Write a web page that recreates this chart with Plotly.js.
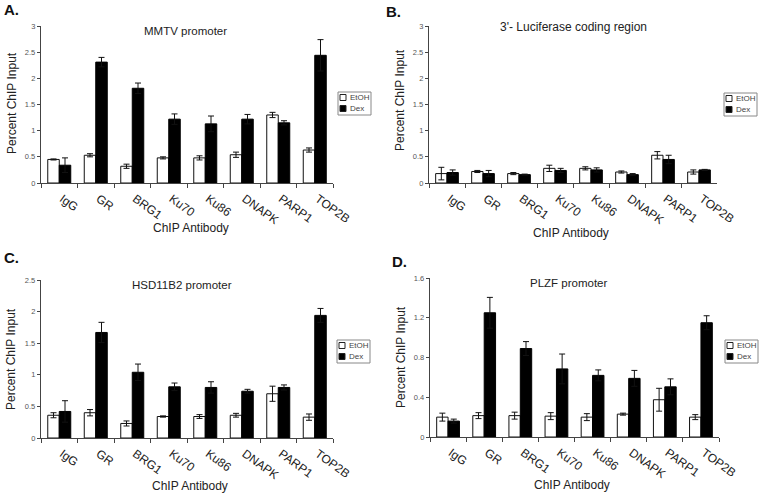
<!DOCTYPE html>
<html>
<head>
<meta charset="utf-8">
<script src="https://cdn.plot.ly/plotly-3.0.1.min.js"></script>
<style>html,body{margin:0;padding:0;background:#fff;}#chart{width:760px;height:494px;}</style>
</head>
<body>
<div id="chart"></div>
<script>
// ---------- data ----------
const categories = ['IgG','GR','BRG1','Ku70','Ku86','DNAPK','PARP1','TOP2B'];
const seriesNames = ['EtOH','Dex'];

// A. MMTV promoter
const mmtvEtOH    = [0.45, 0.53, 0.32, 0.48, 0.48, 0.54, 1.30, 0.63];
const mmtvEtOHErr = [0.01, 0.03, 0.04, 0.02, 0.04, 0.05, 0.05, 0.04];
const mmtvDex     = [0.34, 2.31, 1.81, 1.22, 1.13, 1.22, 1.15, 2.44];
const mmtvDexErr  = [0.14, 0.09, 0.10, 0.10, 0.15, 0.09, 0.04, 0.30];

// B. 3'- Luciferase coding region
const lucEtOH    = [0.18, 0.22, 0.18, 0.28, 0.28, 0.21, 0.53, 0.21];
const lucEtOHErr = [0.12, 0.02, 0.02, 0.06, 0.03, 0.02, 0.07, 0.04];
const lucDex     = [0.20, 0.18, 0.16, 0.24, 0.25, 0.16, 0.45, 0.25];
const lucDexErr  = [0.05, 0.06, 0.01, 0.04, 0.04, 0.02, 0.08, 0.01];

// C. HSD11B2 promoter
const hsdEtOH    = [0.36, 0.40, 0.23, 0.34, 0.34, 0.36, 0.70, 0.33];
const hsdEtOHErr = [0.04, 0.05, 0.04, 0.01, 0.03, 0.03, 0.12, 0.05];
const hsdDex     = [0.42, 1.67, 1.04, 0.81, 0.80, 0.74, 0.80, 1.94];
const hsdDexErr  = [0.17, 0.16, 0.13, 0.06, 0.09, 0.03, 0.04, 0.11];

// D. PLZF promoter
const plzfEtOH    = [0.20, 0.215, 0.215, 0.21, 0.20, 0.23, 0.375, 0.20];
const plzfEtOHErr = [0.04, 0.03, 0.035, 0.035, 0.035, 0.01, 0.115, 0.025];
const plzfDex     = [0.16, 1.25, 0.89, 0.685, 0.62, 0.59, 0.505, 1.15];
const plzfDexErr  = [0.02, 0.155, 0.07, 0.15, 0.055, 0.08, 0.08, 0.07];

const panelTitles = ['MMTV promoter', "3'- Luciferase coding region", 'HSD11B2 promoter', 'PLZF promoter'];
const panelLetters = ['A.', 'B.', 'C.', 'D.'];
const yRanges = [[0, 3], [0, 3], [0, 2.5], [0, 1.6]];
const yDticks = [0.5, 0.5, 0.5, 0.4];
const yTitle = 'Percent ChIP Input';
const xTitle = 'ChIP Antibody';

// ---------- build ----------
const W = 760, H = 494;
const FONT = 'Liberation Sans, Arial, sans-serif';
const panels = [
  {etoh: mmtvEtOH, etohErr: mmtvEtOHErr, dex: mmtvDex, dexErr: mmtvDexErr,
   x0: 41, x1: 333, yTop: 26, yBot: 183, titleSize: 11.5,
   letter: [11, 10], title: [185, 31], ytitle: [12, 103], xtitle: [191, 228], legend: [338, 92]},
  {etoh: lucEtOH, etohErr: lucEtOHErr, dex: lucDex, dexErr: lucDexErr,
   x0: 429, x1: 717, yTop: 26, yBot: 183, titleSize: 12,
   letter: [394, 11], title: [573, 27], ytitle: [400, 100], xtitle: [571, 233], legend: [724, 93]},
  {etoh: hsdEtOH, etohErr: hsdEtOHErr, dex: hsdDex, dexErr: hsdDexErr,
   x0: 41, x1: 333, yTop: 280, yBot: 438, titleSize: 11.5,
   letter: [11, 257], title: [182, 285], ytitle: [11, 359], xtitle: [190, 486], legend: [337, 340]},
  {etoh: plzfEtOH, etohErr: plzfEtOHErr, dex: plzfDex, dexErr: plzfDexErr,
   x0: 430, x1: 719, yTop: 278, yBot: 437, titleSize: 11.5,
   letter: [399, 261], title: [568, 283], ytitle: [401, 357], xtitle: [572, 485], legend: [725, 340]}
];

const data = [];
const layout = {
  width: W, height: H,
  margin: {l: 0, r: 0, t: 0, b: 0},
  paper_bgcolor: '#fff', plot_bgcolor: '#fff',
  barmode: 'group', bargap: 0.37, bargroupgap: 0,
  font: {family: FONT, color: '#333'},
  annotations: [], shapes: [],
  showlegend: false
};

const px = v => v / W, py = v => 1 - v / H;

panels.forEach((p, i) => {
  const n = i === 0 ? '' : String(i + 1);
  const xa = 'x' + n, ya = 'y' + n;
  data.push({
    type: 'bar', name: seriesNames[0], x: categories, y: p.etoh,
    xaxis: xa, yaxis: ya,
    marker: {color: '#ffffff', line: {color: '#111', width: 1}},
    error_y: {type: 'data', array: p.etohErr, visible: true, color: '#111', thickness: 1, width: 3}
  });
  data.push({
    type: 'bar', name: seriesNames[1], x: categories, y: p.dex,
    xaxis: xa, yaxis: ya,
    marker: {color: '#000000', line: {color: '#000', width: 1}},
    error_y: {type: 'data', array: p.dexErr, visible: true, color: '#111', thickness: 1, width: 3}
  });
  layout['xaxis' + n] = {
    domain: [px(p.x0), px(p.x1)], anchor: ya,
    type: 'category', showline: true, linecolor: '#444', linewidth: 1.2,
    ticks: 'outside', ticklen: 4, tickcolor: '#444', tickson: 'boundaries',
    tickangle: 36, tickfont: {size: 12, color: '#222', family: FONT},
    ticklabelstandoff: 3, ticklabelshift: 3,
    showgrid: false, zeroline: false, fixedrange: true
  };
  layout['yaxis' + n] = {
    domain: [py(p.yBot), py(p.yTop)], anchor: xa,
    range: yRanges[i], dtick: yDticks[i], tick0: 0,
    showline: true, linecolor: '#444', linewidth: 1.2,
    ticks: 'outside', ticklen: 3, tickcolor: '#444',
    tickfont: {size: 7.5, color: '#555', family: FONT},
    showgrid: false, zeroline: false, fixedrange: true
  };
  const ann = (txt, pos, size, extra) => Object.assign({
    text: txt, xref: 'paper', yref: 'paper', x: px(pos[0]), y: py(pos[1]),
    xanchor: 'center', yanchor: 'middle', showarrow: false,
    font: {size: size, color: '#222', family: FONT}
  }, extra || {});
  layout.annotations.push(ann('<b>' + panelLetters[i] + '</b>', p.letter, 15, {font: {size: 15, color: '#111', family: FONT}}));
  layout.annotations.push(ann(panelTitles[i], p.title, p.titleSize));
  layout.annotations.push(ann(yTitle, p.ytitle, 12, {textangle: -90}));
  layout.annotations.push(ann(xTitle, p.xtitle, 12));

  // legend box (EtOH / Dex)
  const lx = p.legend[0], ly = p.legend[1];
  layout.shapes.push({type: 'rect', xref: 'paper', yref: 'paper',
    x0: px(lx), x1: px(lx + 33), y0: py(ly), y1: py(ly + 23),
    line: {color: '#888', width: 1}, fillcolor: '#fff'});
  const swatchFill = ['#ffffff', '#000000'];
  [0, 1].forEach(k => {
    const top = ly + 2.5 + k * 11;
    layout.shapes.push({type: 'rect', xref: 'paper', yref: 'paper',
      x0: px(lx + 2), x1: px(lx + 8), y0: py(top), y1: py(top + 6),
      line: {color: '#222', width: 1}, fillcolor: swatchFill[k]});
    layout.annotations.push({text: seriesNames[k], xref: 'paper', yref: 'paper',
      x: px(lx + 10), y: py(top + 3), xanchor: 'left', yanchor: 'middle', showarrow: false,
      font: {size: 8, color: '#444', family: FONT}});
  });
});

Plotly.newPlot('chart', data, layout, {staticPlot: true, displayModeBar: false});
</script>
</body>
</html>
